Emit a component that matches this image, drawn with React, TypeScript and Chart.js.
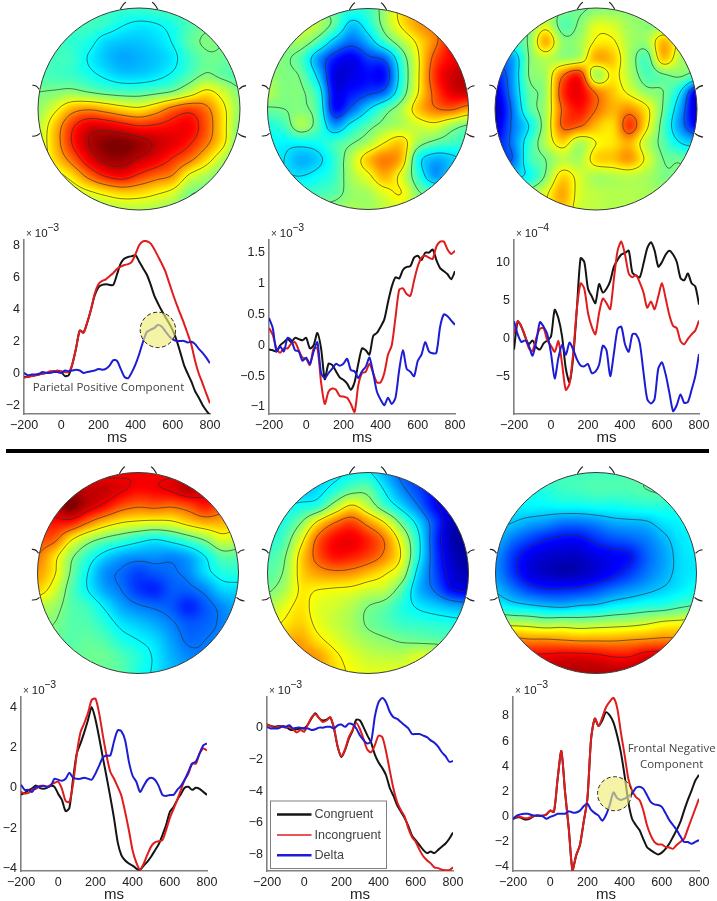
import React, { useEffect, useRef } from "react";
import { Chart, registerables } from "chart.js";

Chart.register(...registerables);

const msTimes = [
  -200, -180, -160, -140, -120, -100, -80, -60, -40, -20,
  0, 20, 40, 60, 80, 100, 120, 140, 160, 180,
  200, 220, 240, 260, 280, 300, 320, 340, 360, 380,
  400, 420, 440, 460, 480, 500, 520, 540, 560, 580,
  600, 620, 640, 660, 680, 700, 720, 740, 760, 780,
  800,
];
const xTicks = [-200, 0, 200, 400, 600, 800];

// ---- waveforms ----
const p1Congruent = [
  -.2, -.2, -.15, -.1, -.05, 0, .05, .1, .15, .15,
  .1, -.15, -.1, .6, 1.6, 2.7, 2.6, 3.2, 4, 4.9,
  5.4, 5.55, 5.6, 5.55, 5.55, 6.2, 6.9, 7.2, 7.3, 7.35,
  7.4, 7.0, 6.6, 6.2, 5.6, 4.9, 4.4, 3.95, 3.55, 3.15,
  2.7, 2.1, 1.35, .55, 0, -.5, -1.1, -1.5, -1.95, -2.3,
  -2.6,
];
const p1Incongruent = [
  -.25, -.2, -.15, -.1, -.05, 0, .05, .15, .15, .2,
  .15, .1, .1, .6, 1.6, 2.7, 2.55, 3.2, 4, 5,
  5.6, 5.8, 5.9, 6.1, 6.3, 6.55, 6.7, 6.8, 6.85, 7,
  7.5, 8.05, 8.28, 8.28, 8.15, 7.8, 7.35, 6.9, 6.4, 5.7,
  5, 4.35, 3.75, 3.15, 2.5, 1.8, .8, 0, -.6, -1.25,
  -1.85,
];
const p1Delta = [
  .05, -.1, -.05, -.05, 0, .1, .05, .05, .1, .1,
  .05, .2, .15, .2, .25, .2, .05, .1, .15, .2,
  .3, .25, .3, .5, .85, .8, .3, -.2, -.28, .1,
  .6, 1.25, 2, 2.6, 2.75, 2.85, 3.05, 2.95, 2.65, 2.35,
  2.15, 2.05, 2.05, 2.05, 1.95, 2, 1.85, 1.55, 1.3, 1,
  .65,
];
const p2Congruent = [
  -.07, -.08, -.1, 0, .05, .1, .05, .12, .1, .08,
  .12, -.05, 0, .2, -.05, -.55, -.3, -.32, -.42, -.52,
  -.56, -.62, -.72, -.6, -.3, -.05, -.08, -.15, .15, .2,
  .3, .42, .7, .95, 1.1, 1.08, 1.22, 1.27, 1.28, 1.42,
  1.45, 1.38, 1.5, 1.5, 1.55, 1.38, 1.25, 1.2, 1.15, 1.07,
  1.2,
];
const p2Incongruent = [
  .28, .17, -.05, -.12, -.05, -.05, .03, .05, -.08, -.2,
  -.22, -.32, -.05, -.05, -.6, -.95, -.75, -.7, -.72, -.82,
  -.83, -.85, -.95, -1.08, -.65, -.45, -.43, -.3, -.45, -.6,
  -.6, -.45, -.15, 0, .45, .9, .92, .83, .8, 1.05,
  1.28, 1.42, 1.45, 1.42, 1.4, 1.6, 1.68, 1.68, 1.55, 1.48,
  1.53,
];
const p2Delta = [
  .44, .28, -.1, -.02, -.1, .12, .08, -.08, -.1, -.25,
  -.2, -.3, -.1, .05, -.45, -.53, -.45, -.38, -.3, -.33,
  -.3, -.22, -.4, -.42, -.53, -.42, -.35, -.2, -.45, -.75,
  -.88, -.97, -.85, -.95, -.85, -.4, -.08, -.38, -.43, -.5,
  -.25, -.15, .05, -.1, -.13, -.12, .3, .5, .47, .4,
  .33,
];
const p3Congruent = [
  -1.5, 2.2, 1.5, .2, -.8, -.3, -1.2, -1.5, -.7, -.3,
  .2, 3.7, 2.6, .2, -4, -5.8, -2.5, 3.9, 10.5, 10,
  6.5, 5.5, 4.6, 7.1, 6, 6.5, 7.5, 9.4, 10.3, 11,
  11.2, 11.5, 8.6, 8.2, 8, 9.8, 11.8, 12.6, 11.5, 9.4,
  10, 11, 11.5, 11, 10, 7.9, 7.6, 8.5, 7.2, 6.8,
  4.4,
];
const p3Incongruent = [
  .6, 2.2, 1.5, .3, -1.3, -1.7, 0, 1.2, 1.3, -.3,
  -1, -1.8, -.4, -3.4, -6.8, -6, -2, 3.9, 7.2, 6.5,
  3.3, 1.5, .5, 3.3, 5.2, 4.6, 3.8, 7.8, 11.5, 12.7,
  11, 8.5, 8, 8.3, 7.3, 6, 4, 4.8, 3.8, 5.5,
  7.2, 5.2, 3, 1.6, 1.3, -.4, -.8, -.1, .5, 1,
  2.3,
];
const p3Delta = [
  2.2, .5, -.5, -.3, -1, -2.3, -.5, 2.1, 1.5, .5,
  -2, -5.3, -2.6, -.9, -2.2, -.6, -1.5, -2.8, -3.6, -3.7,
  -3.4, -4.6, -4.4, -3.5, -1, -1.6, -5, -2, 1.2, 1.5,
  -.8, -1.8, .5, .5, -.7, -4.5, -8, -8.6, -8, -4,
  -3.2, -4.8, -7.2, -9.6, -8.8, -7.4, -8.5, -8.4, -6.8, -5,
  -2.1,
];
const p4Congruent = [
  -.34, -.25, -.12, -.02, .12, 0, -.05, 0, .1, .05,
  -.3, -.6, -1.15, -1, .45, 1.7, 2.2, 2.75, 3.35, 4,
  3.4, 2.5, 1.5, .55, -.45, -1.5, -2.7, -3.35, -3.6, -3.75,
  -3.85, -4, -4.05, -3.85, -3.65, -3.4, -3.1, -2.8, -2.35, -1.85,
  -1.2, -.95, -.6, -.3, 0, .05, -.1, 0, -.05, -.2,
  -.35,
];
const p4Incongruent = [
  -.2, -.28, -.25, -.1, -.05, .1, .1, .05, .15, .25,
  .3, -.05, -.65, -.7, .2, 1.7, 2.75, 3.2, 3.7, 4.35,
  4.42, 3.7, 2.6, 1.6, .8, .45, .05, -.4, -1.2, -2.1,
  -3.1, -3.7, -4.05, -3.75, -3.3, -2.9, -2.7, -2.65, -2.6, -2.1,
  -1.5, -1.05, -.6, -.1, .4, .7, 1.2, 1.2, 1.7, 1.95,
  1.85,
];
const p4Delta = [
  .15, -.1, -.1, -.2, .05, .05, .1, .05, .1, .45,
  .4, .35, .45, .75, .5, .45, .45, .5, .45, .4,
  .7, 1.1, 1.5, 1.6, 1.6, 2.3, 2.85, 2.8, 2.35, 1.3,
  .6, .3, -.2, .1, .4, .5, .4, .1, -.35, -.4,
  -.35, -.35, -.1, .1, .4, .8, 1.2, 1.3, 1.7, 2.1,
  2.2,
];
const p5Congruent = [
  .2, .1, .05, .1, .1, .05, -.1, -.15, -.1, -.05,
  -.05, .2, .6, .9, .6, .45, .5, .65, -.05, -1.2,
  -1.85, -1.4, -.7, -.2, .5, .45, 0, -.5, -.95, -1.7,
  -2.2, -2.55, -3, -3.8, -4.3, -4.9, -5.3, -5.7, -6.2, -6.8,
  -7.1, -7.4, -7.7, -7.9, -7.8, -7.9, -7.7, -7.5, -7.3, -7,
  -6.6,
];
const p5Incongruent = [
  .2, .1, 0, .05, .1, 0, .05, -.1, -.3, -.15,
  -.25, .2, .65, .85, .6, .35, .45, .65, 0, -1.2,
  -1.8, -1.35, -.6, -.15, .3, -.1, -.75, -1.4, -1.55, -1.1,
  -.5, -.6, -1.5, -2.7, -3.85, -4.7, -5.2, -5.6, -6.35, -6.9,
  -7.2, -7.7, -8.1, -8.35, -8.55, -8.8, -8.85, -8.95, -8.98, -8.98,
  -8.8,
];
const p5Delta = [
  .05, -.05, -.05, -.05, .05, .05, .15, -.05, 0, 0,
  -.05, -.05, -.15, -.1, 0, 0, .05, .05, -.05, .15,
  .2, .05, .25, .2, -.05, -.5, -.8, -1, -.85, .7,
  1.6, 1.86, 1.6, 1, .65, .55, .35, .15, -.05, -.4,
  -.4, -.4, -.5, -.6, -.8, -.95, -1.2, -1.55, -1.8, -2.15,
  -2.1,
];
const p6Congruent = [
  -.2, -.1, -.1, -.25, -.25, -.1, .05, .05, .05, .15,
  .45, .35, 3, 5.2, 1.9, -1, -4.3, -3.1, -2.3, -.45,
  1.4, 6.2, 7.8, 7.2, 7.65, 8.3, 8.05, 7.5, 6.45, 5.1,
  3.25, 1.15, -.2, -.7, -1.1, -1.8, -2.45, -2.7, -2.9, -3.05,
  -2.9, -2.6, -2.2, -1.65, -1.1, -.45, .45, 1.3, 2.05, 2.85,
  3.3,
];
const p6Incongruent = [
  -.15, -.05, -.05, -.15, -.15, -.05, .05, .05, .05, .15,
  .45, .35, 3, 5.2, 1.9, -1, -4.3, -3.1, -2.3, -.45,
  1.4, 6.2, 7.8, 7.2, 7.9, 8.7, 9.15, 9.45, 8.65, 6.7,
  4.9, 3, 2.05, 1.55, 1.3, .5, -.7, -1.5, -2.05, -2.25,
  -2.25, -2.45, -2.5, -2.6, -2.3, -2.05, -1.8, -1, -.2, .6,
  1.4,
];
const p6Delta = [
  -.25, .05, .15, .2, .2, .1, .05, .05, 0, -.2,
  -.05, .05, .2, .2, .2, .4, .3, .3, .45, .8,
  1, .5, .25, .05, -.35, .1, .9, 1.9, 1.45, 1.3,
  1.4, 1.6, 1.8, 2.25, 2.35, 2.2, 1.7, 1.15, .95, .9,
  .75, .25, -.3, -.7, -1.1, -1.6, -2.05, -2.05, -2.2, -2.05,
  -1.9,
];

const p1Y = [8, 6, 4, 2, 0, -2];
const p2Y = [1.5, 1, 0.5, 0, -0.5, -1];
const p3Y = [10, 5, 0, -5];
const p4Y = [4, 2, 0, -2, -4];
const p5Y = [0, -2, -4, -6, -8];
const p6Y = [8, 6, 4, 2, 0, -2, -4];

// ---- scalp maps: 13 x 13 samples, top row first, on a 0..10 colour scale ----
const mapA = [
  [4.5, 4.5, 4.4, 4.4, 4.3, 4.3, 4.3, 4.4, 4.5, 4.6, 4.7, 4.7, 4.7],
  [4.5, 4.5, 4.4, 4.4, 4.2, 3.8, 3.6, 3.7, 4.0, 4.5, 4.8, 4.9, 4.9],
  [4.5, 4.4, 4.2, 4.0, 3.4, 3.2, 3.2, 3.4, 3.8, 4.6, 5.0, 4.9, 4.8],
  [4.5, 4.4, 4.3, 3.7, 3.2, 2.9, 3.0, 3.2, 3.55, 4.3, 4.8, 4.8, 4.7],
  [4.5, 4.4, 4.3, 4.0, 3.6, 3.3, 3.3, 3.5, 3.9, 4.5, 5.0, 4.7, 4.5],
  [4.9, 5.0, 5.15, 4.9, 4.65, 4.5, 4.5, 4.7, 5.0, 5.7, 6.4, 5.8, 5.0],
  [5.2, 6.0, 7.0, 7.3, 7.0, 6.6, 6.4, 6.9, 7.7, 8.1, 7.6, 6.4, 5.2],
  [5.5, 6.8, 8.2, 9.0, 9.0, 8.7, 8.4, 8.5, 8.7, 8.8, 7.9, 6.5, 5.0],
  [5.6, 6.9, 8.4, 9.4, 9.9, 10, 9.7, 9.3, 9.0, 8.5, 7.6, 6.4, 4.8],
  [5.5, 6.6, 7.7, 8.9, 9.6, 9.7, 9.3, 8.9, 8.3, 7.6, 6.6, 5.5, 4.7],
  [5.2, 5.8, 6.5, 7.6, 8.4, 8.7, 8.2, 7.7, 7.3, 6.0, 5.4, 4.8, 4.6],
  [5.0, 5.3, 5.6, 6.0, 6.4, 6.7, 6.6, 6.3, 5.9, 5.0, 4.8, 4.6, 4.5],
  [5.0, 5.0, 5.2, 5.3, 5.4, 5.5, 5.5, 5.4, 5.2, 4.8, 4.6, 4.5, 4.5],
];
const mapB = [
  [5.2, 5.2, 5.2, 5.0, 4.6, 4.2, 4.3, 5.3, 6.6, 7, 7, 7, 7],
  [5.6, 5.6, 5.8, 5.5, 4.6, 3.2, 3.9, 5.2, 6.4, 7.2, 7.6, 8, 8],
  [5.2, 5.1, 5.3, 4.5, 3.1, 2.3, 3.0, 4.3, 5.4, 6.5, 7.5, 8.7, 9],
  [5.0, 5.0, 4.5, 2.8, 1.5, 1.1, 1.8, 2.2, 4.3, 6.2, 8, 8.8, 9],
  [5.2, 5.0, 4.8, 3.3, 1.0, 1.0, 1.3, 1.4, 4.0, 6.2, 8.3, 9.2, 9.4],
  [5.5, 5.0, 5.0, 4.1, 1.2, 1.4, 1.8, 2.3, 4.3, 6.3, 8, 9, 9.2],
  [4.8, 4.9, 5.0, 4.4, 1.4, 2.2, 3.4, 4.5, 5.4, 6.8, 7.6, 7.8, 7.2],
  [4.0, 4.4, 5.4, 4.5, 2.8, 3.8, 4.6, 5.2, 5.5, 5.8, 6, 5.3, 4.8],
  [3.8, 3.7, 3.8, 3.9, 4.3, 4.8, 5.4, 6.3, 6.7, 5.3, 4.7, 4.4, 4.2],
  [3.6, 3.5, 3.0, 3.3, 4.2, 5.5, 6.8, 7.5, 6.9, 3.9, 3.0, 3.3, 3.8],
  [3.7, 3.6, 3.5, 3.8, 4.3, 5.4, 6.1, 7.0, 6.0, 4.2, 2.8, 3.5, 3.8],
  [4.2, 4.2, 4.3, 4.4, 4.6, 5.2, 5.4, 6.0, 6.3, 5.0, 4.6, 4.5, 4.5],
  [4.8, 4.8, 4.8, 5.0, 5.2, 5.4, 5.3, 5.6, 5.8, 5.4, 5.0, 5.0, 5.0],
];
const mapC = [
  [4.8, 4.8, 4.9, 5.0, 5.0, 4.8, 5.0, 5.1, 5.1, 5.1, 5.1, 5.1, 5.0],
  [4.6, 4.8, 4.9, 5.8, 4.6, 5.0, 5.9, 5.8, 5.3, 5.1, 5.0, 5.0, 5.0],
  [3.0, 4.2, 5.0, 7.0, 5.2, 5.3, 6.3, 6.3, 5.4, 5.3, 6.9, 5.8, 5.0],
  [2.6, 2.8, 4.9, 5.6, 5.3, 5.6, 7.0, 6.8, 5.4, 4.5, 6.8, 5.5, 5.0],
  [1.5, 2.7, 4.9, 5.4, 7.6, 8.4, 5.4, 6.4, 5.5, 4.5, 4.8, 5.0, 4.5],
  [0.9, 2.6, 4.6, 5.3, 8.2, 8.9, 7.6, 6.8, 6.0, 5.2, 4.9, 3.6, 1.0],
  [0.5, 2.3, 4.4, 5.4, 7.8, 8.6, 7.7, 7.0, 7.3, 6.4, 4.8, 2.9, 0.6],
  [0.8, 2.3, 3.6, 5.4, 7.8, 7.8, 6.9, 6.6, 8.2, 6.4, 4.5, 2.7, 1.2],
  [1.4, 2.4, 4.1, 5.5, 6.6, 5.5, 6.2, 6.5, 7.0, 5.6, 4.6, 3.6, 3.2],
  [2.0, 2.2, 4.2, 4.9, 5.6, 5.4, 6.6, 6.8, 7.2, 6.0, 4.9, 4.8, 4.4],
  [3.0, 3.4, 3.8, 5.0, 6.6, 5.9, 5.4, 5.5, 5.6, 5.4, 5.0, 4.9, 4.8],
  [4.0, 4.6, 5.2, 6.0, 7.1, 5.9, 5.6, 5.5, 5.5, 5.4, 5.2, 5.0, 5.0],
  [5.0, 5.2, 5.6, 6.2, 6.8, 5.8, 5.6, 5.5, 5.5, 5.4, 5.2, 5.0, 5.0],
];
const mapD = [
  [8.5, 8.5, 8.6, 8.7, 8.7, 8.8, 8.9, 8.8, 8.8, 8.8, 8.7, 8.5, 8.5],
  [9.0, 9.2, 9.4, 9.3, 9.3, 9.0, 8.7, 8.8, 9.0, 9.4, 9.0, 8.6, 8.5],
  [9.0, 9.4, 10, 9.3, 8.7, 8.0, 7.7, 7.8, 7.7, 8.0, 8.5, 8.0, 7.8],
  [8.5, 8.6, 8.5, 7.6, 6.8, 6.3, 6.1, 6.0, 6.1, 6.6, 7.0, 7.0, 6.8],
  [8.0, 7.8, 6.4, 5.4, 4.8, 4.4, 4.0, 3.7, 4.0, 4.5, 5.1, 5.9, 5.6],
  [7.6, 6.6, 5.2, 4.2, 3.4, 2.9, 2.7, 2.7, 2.6, 2.9, 3.7, 4.6, 4.6],
  [7.2, 6.4, 4.9, 3.7, 2.7, 2.3, 1.9, 2.1, 2.3, 2.6, 3.4, 4.0, 4.1],
  [6.7, 5.9, 4.6, 3.7, 2.9, 2.4, 1.8, 1.6, 2.1, 2.2, 2.6, 3.3, 3.4],
  [5.6, 5.3, 4.6, 4.3, 3.6, 2.9, 2.5, 2.3, 2.1, 1.6, 2.1, 2.6, 3.0],
  [5.2, 5.0, 4.6, 4.5, 4.1, 3.5, 3.2, 2.9, 2.5, 2.1, 2.2, 2.5, 2.8],
  [5.0, 4.8, 4.6, 4.7, 4.5, 4.0, 3.7, 3.4, 2.8, 2.3, 2.4, 2.6, 2.8],
  [5.0, 4.8, 4.7, 4.8, 4.8, 4.5, 4.1, 3.6, 3.0, 2.6, 2.5, 2.7, 2.8],
  [5.0, 4.8, 4.7, 4.7, 4.7, 4.6, 4.0, 3.6, 3.1, 2.8, 2.7, 2.8, 2.8],
];
const mapE = [
  [3.2, 3.3, 3.4, 3.5, 3.5, 3.8, 3.8, 3.0, 2.2, 1.8, 1.4, 1.2, 1.2],
  [3.2, 3.2, 3.2, 3.4, 4.0, 4.6, 4.7, 3.6, 2.6, 1.9, 1.3, 1.0, 1.0],
  [3.5, 3.7, 3.9, 4.2, 5.4, 6.4, 5.6, 4.4, 3.4, 2.4, 1.3, 0.9, 0.8],
  [3.8, 4.1, 5.0, 6.5, 7.6, 8.1, 7.3, 6.3, 4.8, 3.4, 1.9, 0.6, 0.5],
  [4.0, 4.5, 6.0, 7.8, 8.7, 8.9, 8.4, 7.5, 5.9, 3.9, 1.8, 0.5, 0.3],
  [4.4, 4.9, 6.6, 7.9, 8.6, 8.5, 8.1, 7.4, 6.2, 3.9, 1.9, 0.7, 0.3],
  [4.6, 5.1, 6.6, 7.2, 7.4, 7.3, 6.9, 6.4, 5.6, 3.4, 2.0, 0.9, 0.5],
  [4.9, 5.4, 6.4, 6.3, 6.2, 6.1, 5.8, 5.6, 4.6, 3.1, 2.3, 1.3, 1.0],
  [5.4, 6.0, 6.5, 6.0, 5.8, 5.5, 5.0, 4.7, 4.1, 3.6, 3.3, 3.0, 2.8],
  [5.9, 6.4, 6.7, 6.1, 5.7, 5.4, 4.9, 4.6, 4.3, 4.2, 4.1, 4.0, 3.9],
  [6.3, 6.9, 7.1, 6.5, 6.0, 5.6, 5.3, 5.1, 4.9, 4.8, 4.7, 4.6, 4.5],
  [6.8, 7.2, 7.4, 7.2, 6.5, 6.0, 5.7, 5.6, 5.6, 5.9, 6.0, 5.8, 5.6],
  [7.0, 7.2, 7.4, 7.0, 6.6, 6.2, 6.0, 6.0, 6.0, 6.0, 6.0, 6.0, 6.0],
];
const mapF = [
  [4.2, 4.2, 4.3, 4.4, 4.4, 4.4, 4.4, 4.4, 4.5, 4.5, 4.6, 4.6, 4.6],
  [4.0, 4.0, 3.9, 4.1, 4.3, 4.4, 4.5, 4.5, 4.5, 4.6, 4.7, 4.6, 4.5],
  [3.6, 3.6, 3.7, 3.7, 3.8, 3.8, 3.9, 3.9, 4.0, 4.1, 4.1, 4.0, 4.0],
  [3.4, 3.2, 2.9, 2.7, 2.4, 2.4, 2.6, 2.9, 3.0, 3.1, 3.5, 3.7, 3.8],
  [3.1, 2.4, 1.9, 1.5, 1.3, 1.3, 1.7, 2.0, 2.2, 2.5, 3.0, 3.5, 3.7],
  [2.7, 1.8, 1.1, 0.8, 0.7, 0.7, 1.0, 1.2, 1.4, 2.2, 2.8, 3.4, 3.6],
  [2.7, 1.8, 1.0, 0.7, 0.5, 0.6, 0.9, 1.3, 1.8, 2.4, 2.9, 3.4, 3.6],
  [3.1, 2.5, 1.9, 1.6, 1.6, 1.7, 2.0, 2.4, 2.7, 3.0, 3.3, 3.6, 3.9],
  [3.9, 3.6, 3.4, 3.2, 3.1, 3.3, 3.4, 3.7, 3.9, 4.1, 4.2, 4.5, 4.7],
  [5.7, 5.6, 5.5, 5.3, 5.4, 5.3, 5.4, 5.5, 5.6, 5.8, 6.1, 6.2, 6.3],
  [7.7, 7.6, 7.4, 7.4, 7.3, 7.2, 7.2, 7.2, 7.3, 7.4, 7.5, 7.5, 7.6],
  [8.9, 8.9, 8.9, 8.9, 9.0, 9.0, 8.9, 8.7, 8.7, 9.1, 9.2, 9.2, 9.2],
  [9.5, 9.5, 9.5, 9.5, 9.5, 9.5, 9.5, 9.5, 9.5, 9.5, 9.5, 9.5, 9.5],
];
const levelsA = [3.75, 4.9, 6.2, 7.4, 8.4, 9.4];
const levelsB = [2.0, 3.5, 4.9, 6.3, 7.7];
const levelsC = [2.2, 3.6, 4.9, 6.2, 7.7];
const levelsD = [2.4, 3.7, 5.0, 6.3, 7.6, 8.9];
const levelsE = [1.2, 2.4, 3.7, 5.0, 6.3, 7.6];
const levelsF = [1.5, 3.2, 4.6, 5.9, 7.3, 8.7];

const seriesNames = ["Congruent", "Incongruent", "Delta"];
const seriesColors = ["#141414", "#e01c1c", "#1c1cd4"];
const FONT = "'Liberation Sans', Arial, sans-serif";

function jet(v: number): [number, number, number] {
  const t = Math.max(0, Math.min(1, v / 10));
  const ramp = (c: number) => Math.max(0, Math.min(1, 1.5 - Math.abs(4 * t - c)));
  return [ramp(3) * 255, ramp(2) * 255, ramp(1) * 255];
}

const earMarks = [
  [-299, -59, -306, -72, -319, -71],
  [-296, 73, -306, 83, -319, 81],
  [299, -59, 309, -70, 320, -70],
  [296, 73, 306, 83, 320, 84],
  [-56, -298, -46, -316, -39, -319],
  [56, -298, 46, -316, 39, -319],
];

function topoPlugin(levels: number[]) {
  return {
    id: "topo",
    afterDatasetsDraw(chart: any) {
      const ctx = chart.ctx as CanvasRenderingContext2D;
      const sx = chart.scales.x;
      const sy = chart.scales.y;
      const cx = sx.getPixelForValue(0);
      const cy = sy.getPixelForValue(0);
      const R = sx.getPixelForValue(1) - cx;
      const pts = chart.data.datasets[0].data as { x: number; y: number; v: number }[];
      const at = (r: number, c: number) => {
        const rr = Math.max(0, Math.min(12, r));
        const cc = Math.max(0, Math.min(12, c));
        return pts[rr * 13 + cc].v;
      };
      const cr = (a: number, b: number, c: number, d: number, t: number) =>
        0.5 * (2 * b + (c - a) * t + (2 * a - 5 * b + 4 * c - d) * t * t + (3 * b - a - 3 * c + d) * t * t * t);
      const field = (px: number, py: number) => {
        const gx = (sx.getValueForPixel(px) + 1) * 6;
        const gy = (1 - sy.getValueForPixel(py)) * 6;
        const c0 = Math.floor(gx);
        const r0 = Math.floor(gy);
        const fx = gx - c0;
        const fy = gy - r0;
        const row = [0, 1, 2, 3].map((i) => {
          const r = r0 - 1 + i;
          return cr(at(r, c0 - 1), at(r, c0), at(r, c0 + 1), at(r, c0 + 2), fx);
        });
        return cr(row[0], row[1], row[2], row[3], fy);
      };
      const x0 = Math.floor(cx - R) - 1;
      const y0 = Math.floor(cy - R) - 1;
      const size = Math.ceil(2 * R) + 3;
      const off = document.createElement("canvas");
      off.width = size;
      off.height = size;
      const octx = off.getContext("2d")!;
      const img = octx.createImageData(size, size);
      for (let j = 0; j < size; j++) {
        for (let i = 0; i < size; i++) {
          const [r, g, b] = jet(field(x0 + i + 0.5, y0 + j + 0.5));
          const k = (j * size + i) * 4;
          img.data[k] = r;
          img.data[k + 1] = g;
          img.data[k + 2] = b;
          img.data[k + 3] = 255;
        }
      }
      octx.putImageData(img, 0, 0);
      ctx.save();
      ctx.beginPath();
      ctx.arc(cx, cy, R, 0, Math.PI * 2);
      ctx.clip();
      ctx.drawImage(off, x0, y0);
      // contour lines
      const step = 2;
      ctx.strokeStyle = "rgba(45,45,45,0.8)";
      ctx.lineWidth = 0.8;
      ctx.beginPath();
      for (const lv of levels) {
        for (let py = y0; py < y0 + size; py += step) {
          for (let px = x0; px < x0 + size; px += step) {
            const a = field(px, py) - lv;
            const b = field(px + step, py) - lv;
            const c = field(px + step, py + step) - lv;
            const d = field(px, py + step) - lv;
            const hits: [number, number][] = [];
            if (a * b < 0) hits.push([px + (step * a) / (a - b), py]);
            if (b * c < 0) hits.push([px + step, py + (step * b) / (b - c)]);
            if (c * d < 0) hits.push([px + (step * d) / (d - c), py + step]);
            if (d * a < 0) hits.push([px, py + (step * a) / (a - d)]);
            for (let h = 0; h + 1 < hits.length; h += 2) {
              ctx.moveTo(hits[h][0], hits[h][1]);
              ctx.lineTo(hits[h + 1][0], hits[h + 1][1]);
            }
          }
        }
      }
      ctx.stroke();
      ctx.restore();
      // head outline and ear / nose marks
      ctx.strokeStyle = "#3a3a3a";
      ctx.lineWidth = 1;
      ctx.beginPath();
      ctx.arc(cx, cy, R, 0, Math.PI * 2);
      ctx.stroke();
      ctx.strokeStyle = "#222";
      ctx.lineWidth = 1.1;
      const k = R / 302;
      for (const m of earMarks) {
        ctx.beginPath();
        ctx.moveTo(cx + m[0] * k, cy + m[1] * k);
        ctx.quadraticCurveTo(cx + m[2] * k, cy + m[3] * k, cx + m[4] * k, cy + m[5] * k);
        ctx.stroke();
      }
    },
  };
}

type Note = { lines: string[]; ms: number; val: number };
type Spot = { ms: number; val: number; r: number };
type PlotSpec = {
  rect: number[];
  yRange: number[];
  yTicks: number[];
  exp: string;
  series: number[][];
  spot?: Spot;
  note?: Note;
  legend?: boolean;
};

const FONT_NOTE = "'Open Sans', 'Liberation Sans', sans-serif";

function overlayPlugin(spec: PlotSpec) {
  return {
    id: "overlay",
    afterDatasetsDraw(chart: any) {
      const ctx = chart.ctx as CanvasRenderingContext2D;
      const sx = chart.scales.x;
      const sy = chart.scales.y;
      const area = chart.chartArea;
      ctx.save();
      // scale factor above the y axis
      const left = area.left + 2;
      const base = area.top - 3;
      ctx.textBaseline = "alphabetic";
      ctx.textAlign = "left";
      ctx.fillStyle = "#333";
      ctx.font = `10px ${FONT}`;
      ctx.fillText("\u00d7", left, base);
      ctx.fillStyle = "#222";
      ctx.font = `11.5px ${FONT}`;
      ctx.fillText("10", left + 8.8, base);
      ctx.font = `10.5px ${FONT}`;
      ctx.fillText("\u2212" + spec.exp, left + 21.2, base - 6);
      if (spec.spot) {
        const px = sx.getPixelForValue(spec.spot.ms);
        const py = sy.getPixelForValue(spec.spot.val);
        ctx.beginPath();
        ctx.arc(px, py, spec.spot.r, 0, Math.PI * 2);
        ctx.fillStyle = "rgba(240,237,117,0.65)";
        ctx.fill();
        ctx.setLineDash([4, 2.5]);
        ctx.lineWidth = 1;
        ctx.strokeStyle = "#222";
        ctx.stroke();
        ctx.setLineDash([]);
      }
      if (spec.note) {
        ctx.font = `11.5px ${FONT_NOTE}`;
        ctx.fillStyle = "#444";
        ctx.textAlign = "center";
        ctx.textBaseline = "middle";
        spec.note.lines.forEach((ln, i) => {
          ctx.fillText(ln, sx.getPixelForValue(spec.note!.ms), sy.getPixelForValue(spec.note!.val) + i * 16);
        });
      }
      if (spec.legend) {
        const bx = area.left + 3.5;
        const by = area.bottom - 70;
        const bw = 116;
        const bh = 67.5;
        ctx.fillStyle = "#fff";
        ctx.fillRect(bx, by, bw, bh);
        ctx.strokeStyle = "#808080";
        ctx.lineWidth = 1;
        ctx.strokeRect(bx, by, bw, bh);
        chart.data.datasets.forEach((ds: any, i: number) => {
          const y = by + 13.5 + i * 20.4;
          ctx.strokeStyle = ds.borderColor;
          ctx.lineWidth = i === 1 ? 1.5 : 2.5;
          ctx.beginPath();
          ctx.moveTo(bx + 6.5, y);
          ctx.lineTo(bx + 41, y);
          ctx.stroke();
          ctx.fillStyle = "#444";
          ctx.font = `12.6px ${FONT}`;
          ctx.textAlign = "left";
          ctx.textBaseline = "middle";
          ctx.fillText(ds.label, bx + 44, y + 0.5);
        });
      }
      ctx.restore();
    },
  };
}

const Y_BOX = 38;
const X_BOX = 33;
const TOP_PAD = 18;
const RIGHT_PAD = 20;

function Plot({ spec }: { spec: PlotSpec }) {
  const ref = useRef<HTMLCanvasElement>(null);
  const [l, t, r, b] = spec.rect;
  useEffect(() => {
    const minus = (v: number) => (v < 0 ? "\u2212" : "") + String(Math.abs(v));
    const chart = new Chart(ref.current!, {
      type: "line",
      data: {
        datasets: spec.series.map((vals, i) => ({
          label: seriesNames[i],
          data: vals.map((v, k) => ({ x: msTimes[k], y: v })),
          borderColor: seriesColors[i],
          borderWidth: 2,
          pointRadius: 0,
          tension: 0.25,
          fill: false,
          order: 3 - i,
        })),
      },
      options: {
        responsive: false,
        animation: false,
        layout: { padding: { left: 0, right: RIGHT_PAD, top: TOP_PAD, bottom: 0 } },
        plugins: { legend: { display: false }, tooltip: { enabled: false } },
        scales: {
          x: {
            type: "linear",
            min: -200,
            max: 800,
            grid: { display: false, drawTicks: false },
            border: { display: true, color: "#808080", width: 1.6 },
            afterBuildTicks: (s: any) => {
              s.ticks = xTicks.map((v) => ({ value: v }));
            },
            afterFit: (s: any) => {
              s.height = X_BOX;
              s.paddingLeft = 0;
              s.paddingRight = 0;
            },
            ticks: {
              font: { family: FONT, size: 12.5 },
              color: "#222",
              padding: 4,
              maxRotation: 0,
              autoSkip: false,
              callback: (v: any) => minus(Number(v)),
            },
            title: {
              display: true,
              text: "ms",
              color: "#222",
              font: { family: FONT, size: 15 },
              padding: { top: 0, bottom: 0 },
            },
          },
          y: {
            type: "linear",
            min: spec.yRange[0],
            max: spec.yRange[1],
            grid: { display: false, drawTicks: false },
            border: { display: true, color: "#808080", width: 1.6 },
            afterBuildTicks: (s: any) => {
              s.ticks = spec.yTicks.map((v) => ({ value: v }));
            },
            afterFit: (s: any) => {
              s.width = Y_BOX;
              s.paddingTop = 0;
              s.paddingBottom = 0;
            },
            ticks: {
              font: { family: FONT, size: 12.5 },
              color: "#222",
              padding: 4,
              autoSkip: false,
              callback: (v: any) => minus(Number(v)),
            },
          },
        },
      },
      plugins: [overlayPlugin(spec)],
    } as any);
    return () => chart.destroy();
  }, []);
  return (
    <canvas
      ref={ref}
      width={Math.round(r - l) + Y_BOX + RIGHT_PAD}
      height={Math.round(b - t) + TOP_PAD + X_BOX}
      style={{ position: "absolute", left: l - Y_BOX, top: t - TOP_PAD, display: "block", filter: "blur(0.45px)" }}
    />
  );
}

function Topo({ grid, levels, cx, cy, R }: { grid: number[][]; levels: number[]; cx: number; cy: number; R: number }) {
  const ref = useRef<HTMLCanvasElement>(null);
  const half = Math.ceil(R * 1.14);
  useEffect(() => {
    const pts: { x: number; y: number; v: number }[] = [];
    grid.forEach((row, r) => row.forEach((v, c) => pts.push({ x: c / 6 - 1, y: 1 - r / 6, v })));
    const lim = half / R;
    const chart = new Chart(ref.current!, {
      type: "scatter",
      data: { datasets: [{ data: pts, pointRadius: 0 }] },
      options: {
        responsive: false,
        animation: false,
        layout: { padding: 0 },
        plugins: { legend: { display: false }, tooltip: { enabled: false } },
        scales: {
          x: { type: "linear", min: -lim, max: lim, display: false },
          y: { type: "linear", min: -lim, max: lim, display: false },
        },
      },
      plugins: [topoPlugin(levels)],
    } as any);
    return () => chart.destroy();
  }, []);
  return (
    <canvas
      ref={ref}
      width={half * 2}
      height={half * 2}
      style={{ position: "absolute", left: cx - half, top: cy - half, display: "block", filter: "blur(0.5px)" }}
    />
  );
}

const plots: PlotSpec[] = [
  {
    rect: [23.5, 240, 209.5, 414.3],
    yRange: [-2.52, 8.36],
    yTicks: p1Y,
    exp: "3",
    series: [p1Congruent, p1Incongruent, p1Delta],
    spot: { ms: 520, val: 2.74, r: 17.7 },
    note: { lines: ["Parietal Positive Component"], ms: 254, val: -0.87 },
  },
  {
    rect: [268.7, 240, 455, 414.3],
    yRange: [-1.113, 1.705],
    yTicks: p2Y,
    exp: "3",
    series: [p2Congruent, p2Incongruent, p2Delta],
  },
  {
    rect: [514.3, 240, 699.3, 414.3],
    yRange: [-9.98, 12.9],
    yTicks: p3Y,
    exp: "4",
    series: [p3Congruent, p3Incongruent, p3Delta],
  },
  {
    rect: [20.7, 696.7, 207, 870.7],
    yRange: [-4.12, 4.5],
    yTicks: p4Y,
    exp: "3",
    series: [p4Congruent, p4Incongruent, p4Delta],
  },
  {
    rect: [266.7, 696.7, 453, 870.7],
    yRange: [-9.03, 1.93],
    yTicks: p5Y,
    exp: "3",
    series: [p5Congruent, p5Incongruent, p5Delta],
    legend: true,
  },
  {
    rect: [512.7, 696.7, 698.3, 870.7],
    yRange: [-4.37, 9.52],
    yTicks: p6Y,
    exp: "3",
    series: [p6Congruent, p6Incongruent, p6Delta],
    spot: { ms: 346, val: 1.8, r: 17 },
    note: { lines: ["Frontal Negative", "Component"], ms: 653, val: 5.42 },
  },
];

const topos = [
  { grid: mapA, levels: levelsA, cx: 138.7, cy: 109, R: 101 },
  { grid: mapB, levels: levelsB, cx: 367.8, cy: 109, R: 100.5 },
  { grid: mapC, levels: levelsC, cx: 596.3, cy: 109, R: 101 },
  { grid: mapD, levels: levelsD, cx: 138, cy: 573, R: 100.5 },
  { grid: mapE, levels: levelsE, cx: 367.5, cy: 573, R: 100.5 },
  { grid: mapF, levels: levelsF, cx: 596, cy: 573, R: 100.5 },
];

export default function App() {
  return (
    <div style={{ position: "fixed", left: 0, top: 0, width: 717, height: 901, overflow: "hidden", background: "#fff" }}>
      {topos.map((t, i) => (
        <Topo key={i} {...t} />
      ))}
      {plots.map((p, i) => (
        <Plot key={i} spec={p} />
      ))}
      <div style={{ position: "absolute", left: 6, top: 448.5, width: 703, height: 4, background: "#000" }} />
    </div>
  );
}
